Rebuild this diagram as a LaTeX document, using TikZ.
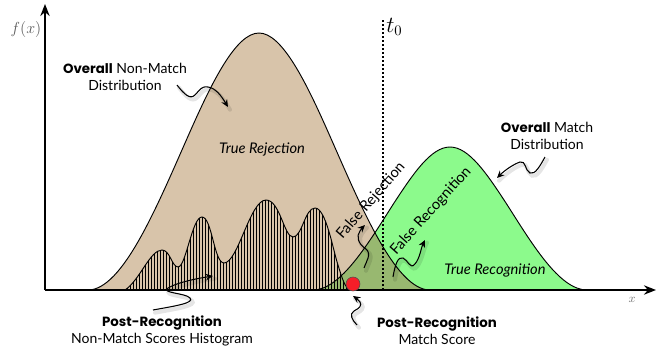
\documentclass[tikz,border=0pt]{standalone}
\usepackage{fontspec}
\setmainfont{Lato}
\newfontfamily\heavyfont{Poppins}
\usepackage{tikz}
\usetikzlibrary{arrows.meta}
\usepackage{xcolor}

\definecolor{tanfill}{RGB}{216,196,170}
\definecolor{matchgreen}{RGB}{140,250,140}
\definecolor{overlapolive}{RGB}{152,184,112}
\definecolor{scoredot}{RGB}{245,30,40}

\newcommand{\heavy}[1]{{\heavyfont\bfseries\fontsize{10}{12.5}\selectfont #1}}
\newcommand{\nonmatchcurve}{(88,290) .. controls (123,290) and (158,204) .. (189,134) .. controls (212,82) and (236,33) .. (259,33) .. controls (282,33) and (306,82) .. (329,134) .. controls (360,204) and (395,290) .. (430,290)}
\newcommand{\matchcurve}{(313,290) .. controls (341,290) and (369,242) .. (394,203) .. controls (413,174) and (431,147) .. (450,147) .. controls (469,147) and (487,174) .. (506,203) .. controls (531,242) and (559,290) .. (587,290)}
\newcommand{\histcurve}{(125,290) .. controls (140,280) and (150,250) .. (162,250) .. controls (170,250) and (172,267) .. (178,267) .. controls (186,267) and (192,217) .. (202,217) .. controls (212,217) and (214,263) .. (224,263) .. controls (238,263) and (250,200) .. (266,200) .. controls (280,200) and (284,237) .. (293,237) .. controls (302,237) and (305,208) .. (315,208) .. controls (326,208) and (333,250) .. (338,265) .. controls (342,278) and (345,288) .. (350,290)}

\tikzset{
  curveline/.style={line width=0.7pt},
  axisline/.style={line width=1.5pt, -{Stealth[length=9pt,width=7pt]}},
  squiggle/.style={line width=0.8pt, -{Stealth[length=5.5pt,width=5pt]}},
  squiggleshadow/.style={line width=3pt, black, opacity=0.10, line cap=round, transform canvas={xshift=1.5pt,yshift=-2pt}},
  lbl/.style={inner sep=0.75pt, align=center, font=\fontsize{10.5}{12.5}\selectfont},
  regionlbl/.style={inner sep=0.75pt, font=\fontsize{11}{13}\selectfont},
}

\begin{document}
\begin{tikzpicture}[x=0.75pt,y=0.75pt,yscale=-1,xscale=1]
\useasboundingbox (0,0) rectangle (665,351);

%Shape: filled distributions
\fill [tanfill] \nonmatchcurve -- cycle;
\fill [matchgreen] \matchcurve -- cycle;
\begin{scope}
\clip \nonmatchcurve -- cycle;
\fill [overlapolive] \matchcurve -- cycle;
\end{scope}

%Hatched histogram
\begin{scope}
\clip \histcurve -- cycle;
\foreach \x in {124,127,...,352} \draw [line width=0.45pt] (\x,190) -- (\x,291);
\end{scope}
\draw [curveline] \histcurve;

%Curve Lines
\draw [curveline] \nonmatchcurve;
\draw [curveline] \matchcurve;

%Axes
\coordinate (origin) at (45,290);
\coordinate (xend) at (656,290);
\coordinate (ytop) at (45,4);
\draw [axisline] (origin) -- (xend);
\draw [axisline] (origin) -- (ytop);

%Threshold
\coordinate (ttop) at (383,20);
\coordinate (tbottom) at (383,290);
\draw [line width=0.9pt, dash pattern=on 1.6pt off 1.4pt] (ttop) -- (tbottom);

%Match score dot
\node [circle, draw=black!70, fill=scoredot, line width=0.4pt, minimum size=10.5pt, inner sep=0pt] (scoredot) at (353,284) {};

% Text Node
\node [inner sep=0.75pt, text=black!65, font=\fontsize{12}{14}\selectfont] (fx) at (26,29) {$f(x)$};
% Text Node
\node [inner sep=0.75pt, text=black!55, font=\small] (xlbl) at (632,300) {$x$};
% Text Node
\node [inner sep=0.75pt, anchor=west, font=\fontsize{16}{18}\selectfont] (tzero) at (385,27) {$t_0$};
% Text Node
\node [lbl] (nonmatchlbl) at (125,77) {\heavy{Overall} Non-Match\\Distribution};
% Text Node
\node [lbl] (matchlbl) at (547,136) {\heavy{Overall} Match\\Distribution};
% Text Node
\node [lbl] (histlbl) at (162,331) {\heavy{Post-Recognition}\\Non-Match Scores Histogram};
% Text Node
\node [lbl] (scorelbl) at (437,331) {\heavy{Post-Recognition}\\Match Score};
% Text Node
\node [regionlbl] (truerej) at (262,149) {\textit{True Rejection}};
% Text Node
\node [regionlbl] (truerec) at (495,270) {\textit{True Recognition}};
% Text Node
\node [regionlbl, rotate=49] (falserej) at (371,201) {False Rejection};
% Text Node
\node [regionlbl, rotate=48] (falserec) at (431,211) {False Recognition};

%Squiggle arrows
\coordinate (nmtail) at (177,85);
\coordinate (nmhead) at (228,107);
\draw [squiggleshadow] (nmtail) .. controls (184,94) and (190,100) .. (195,95) .. controls (200,90) and (201,86) .. (208,87) .. controls (216,88) and (222,97) .. (228,107);
\draw [squiggle] (nmtail) .. controls (184,94) and (190,100) .. (195,95) .. controls (200,90) and (201,86) .. (208,87) .. controls (216,88) and (222,97) .. (nmhead);

\coordinate (mtail) at (545,157);
\coordinate (mhead) at (497,178);
\draw [squiggleshadow] (mtail) .. controls (540,166) and (535,175) .. (530,173) .. controls (525,171) and (526,160) .. (520,162) .. controls (514,164) and (505,170) .. (497,178);
\draw [squiggle] (mtail) .. controls (540,166) and (535,175) .. (530,173) .. controls (525,171) and (526,160) .. (520,162) .. controls (514,164) and (505,170) .. (mhead);

\coordinate (frjtail) at (364,268);
\coordinate (frjhead) at (365,225);
\draw [squiggleshadow] (frjtail) .. controls (366,262) and (372,254) .. (366,249) .. controls (358,244) and (356,236) .. (360,231) .. controls (362,228) and (363,227) .. (365,225);
\draw [squiggle] (frjtail) .. controls (366,262) and (372,254) .. (366,249) .. controls (358,244) and (356,236) .. (360,231) .. controls (362,228) and (363,227) .. (frjhead);

\coordinate (frctail) at (393,277);
\coordinate (frchead) at (425,240);
\draw [squiggleshadow] (frctail) .. controls (395,265) and (398,256) .. (403,258) .. controls (408,260) and (410,270) .. (415,264) .. controls (420,258) and (421,248) .. (425,240);
\draw [squiggle] (frctail) .. controls (395,265) and (398,256) .. (403,258) .. controls (408,260) and (410,270) .. (415,264) .. controls (420,258) and (421,248) .. (frchead);

\coordinate (htail) at (153,310);
\coordinate (hhead) at (213,276);
\draw [squiggleshadow] (htail) .. controls (175,306) and (195,303) .. (190,298) .. controls (186,293) and (160,293) .. (168,288) .. controls (178,282) and (200,278) .. (213,276);
\draw [squiggle] (htail) .. controls (175,306) and (195,303) .. (190,298) .. controls (186,293) and (160,293) .. (168,288) .. controls (178,282) and (200,278) .. (hhead);

\coordinate (stail) at (357,325);
\coordinate (shead) at (353,296);
\draw [squiggleshadow] (stail) .. controls (352,320) and (349,314) .. (354,311) .. controls (360,308) and (362,305) .. (360,302) .. controls (358,300) and (356,298) .. (353,296);
\draw [squiggle] (stail) .. controls (352,320) and (349,314) .. (354,311) .. controls (360,308) and (362,305) .. (360,302) .. controls (358,300) and (356,298) .. (shead);

\end{tikzpicture}
\end{document}
